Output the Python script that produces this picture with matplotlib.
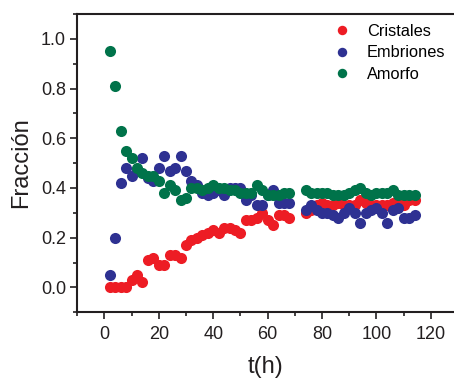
import numpy as np
import matplotlib
matplotlib.use("Agg")
import matplotlib.pyplot as plt
from matplotlib.ticker import MultipleLocator

plt.rcParams['font.family'] = ['Liberation Sans', 'DejaVu Sans']

# time in hours (no samples at 70 and 72 h)
t = [2, 4, 6, 8, 10, 12, 14, 16, 18, 20, 22, 24, 26, 28, 30, 32, 34, 36, 38, 40,
     42, 44, 46, 48, 50, 52, 54, 56, 58, 60, 62, 64, 66, 68, 74, 76, 78, 80, 82, 84,
     86, 88, 90, 92, 94, 96, 98, 100, 102, 104, 106, 108, 110, 112, 114]

cristales = [0.00, 0.00, 0.00, 0.00, 0.03, 0.05, 0.02, 0.11, 0.12, 0.09, 0.09, 0.13, 0.13, 0.12, 0.17,
             0.19, 0.20, 0.21, 0.22, 0.23, 0.22, 0.24, 0.24, 0.23, 0.22, 0.27, 0.27, 0.28, 0.30, 0.27,
             0.25, 0.29, 0.29, 0.28, 0.30, 0.31, 0.33, 0.34, 0.33, 0.33, 0.34, 0.33, 0.33, 0.33, 0.35,
             0.34, 0.33, 0.33, 0.33, 0.33, 0.34, 0.35, 0.33, 0.35, 0.35]

embriones = [0.05, 0.20, 0.42, 0.48, 0.45, 0.47, 0.52, 0.44, 0.43, 0.48, 0.53, 0.47, 0.48, 0.53, 0.47,
             0.43, 0.41, 0.38, 0.37, 0.38, 0.39, 0.37, 0.40, 0.40, 0.40, 0.35, 0.37, 0.33, 0.33, 0.37,
             0.39, 0.34, 0.34, 0.34, 0.31, 0.33, 0.31, 0.30, 0.30, 0.29, 0.28, 0.30, 0.32, 0.30, 0.26,
             0.30, 0.31, 0.32, 0.30, 0.26, 0.31, 0.32, 0.28, 0.28, 0.29]

amorfo = [0.95, 0.81, 0.63, 0.55, 0.52, 0.48, 0.46, 0.45, 0.45, 0.43, 0.38, 0.41, 0.39, 0.35, 0.36,
          0.40, 0.40, 0.39, 0.40, 0.41, 0.40, 0.40, 0.39, 0.39, 0.38, 0.38, 0.38, 0.41, 0.39, 0.37,
          0.37, 0.37, 0.38, 0.38, 0.39, 0.38, 0.38, 0.38, 0.38, 0.37, 0.37, 0.37, 0.38, 0.39, 0.40,
          0.38, 0.37, 0.38, 0.38, 0.38, 0.39, 0.37, 0.37, 0.37, 0.37]

fig = plt.figure(figsize=(4.54, 3.78), dpi=100)
ax = fig.add_axes([0.170, 0.174, 0.830, 0.789])

ax.plot(t, cristales, 'o', color='#ED1C24', ms=8, mec='none', label='Cristales')
ax.plot(t, embriones, 'o', color='#2E3192', ms=8, mec='none', label='Embriones')
ax.plot(t, amorfo, 'o', color='#00734A', ms=8, mec='none', label='Amorfo')

ax.set_xlim(-10, 128.5)
ax.set_ylim(-0.1, 1.1)
ax.xaxis.set_major_locator(MultipleLocator(20))
ax.xaxis.set_minor_locator(MultipleLocator(10))
ax.yaxis.set_major_locator(MultipleLocator(0.2))
ax.yaxis.set_minor_locator(MultipleLocator(0.1))
ax.yaxis.set_major_formatter(plt.FormatStrFormatter('%.1f'))

for s in ['left', 'bottom', 'top']:
    ax.spines[s].set_linewidth(1.5)
    ax.spines[s].set_color('#231F20')
ax.spines['right'].set_visible(False)

ax.tick_params(which='both', direction='out', top=False, right=False,
               width=1.2, color='#231F20', labelsize=13, labelcolor='#231F20')
ax.tick_params(which='major', length=5, pad=3)
ax.tick_params(which='minor', length=3)
ax.tick_params(axis='x', which='major', pad=5)

ax.set_xlabel('t(h)', fontsize=17, color='#231F20', labelpad=9)
ax.set_ylabel('Fracción', fontsize=17, color='#231F20', labelpad=6)

ax.legend(loc='upper left', bbox_to_anchor=(0.681, 0.966), frameon=False, fontsize=11.8,
          borderpad=0, borderaxespad=0, handlelength=1.0, handletextpad=1.03,
          labelspacing=0.38, markerscale=0.85)

fig.savefig('out.png', dpi=100)
